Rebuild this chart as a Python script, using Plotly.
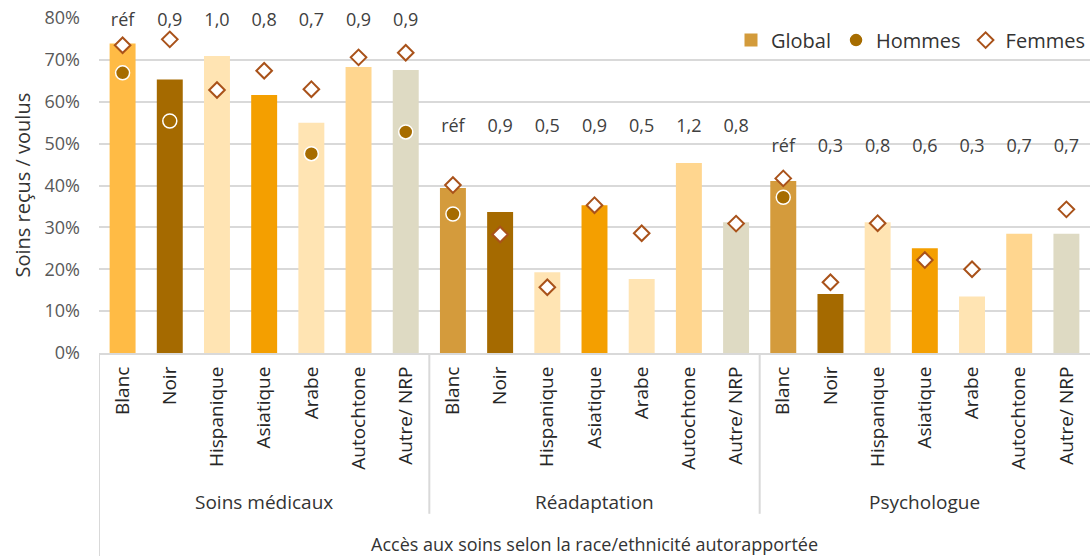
import plotly.graph_objects as go

# Categories
groups = ["Soins médicaux", "Réadaptation", "Psychologue"]
ethnicities = ["Blanc", "Noir", "Hispanique", "Asiatique", "Arabe", "Autochtone", "Autre/ NRP"]

# Share of care received among care wanted (%), per group then ethnicity
global_vals = [73.9, 65.3, 70.9, 61.6, 55.0, 68.3, 67.6,
               39.4, 33.7, 19.3, 35.3, 17.7, 45.4, 31.2,
               41.1, 14.1, 31.2, 25.0, 13.5, 28.5, 28.5]
hommes_vals = [66.9, 55.4, None, None, 47.6, None, 52.8,
               33.2, None, None, None, None, None, None,
               37.2, None, None, None, None, None, None]
femmes_vals = [73.5, 74.9, 62.8, 67.4, 63.0, 70.6, 71.7,
               40.1, 28.3, 15.7, 35.3, 28.6, None, 30.9,
               41.7, 16.9, 31.0, 22.2, 20.0, None, 34.3]

# Ratio labels shown above each bar
ratio_labels = ["réf", "0,9", "1,0", "0,8", "0,7", "0,9", "0,9",
                "réf", "0,9", "0,5", "0,9", "0,5", "1,2", "0,8",
                "réf", "0,3", "0,8", "0,6", "0,3", "0,7", "0,7"]

# Styling
FONT = "Open Sans"
eth_colors = {"Blanc": "#FFBB45", "Noir": "#A56A00", "Hispanique": "#FFE4B3",
              "Asiatique": "#F49F00", "Arabe": "#FFE4B3", "Autochtone": "#FFD68F",
              "Autre/ NRP": "#DEDAC3"}
blanc_other = "#D49B3C"
label_level = {"Soins médicaux": 79.2, "Réadaptation": 53.8, "Psychologue": 49.0}
GRID = "#D9D9D9"

n_eth = len(ethnicities)
xs = list(range(len(groups) * n_eth))
tick_text = [e for g in groups for e in ethnicities]
bar_colors = []
label_y = []
for gi, g in enumerate(groups):
    for e in ethnicities:
        if e == "Blanc" and gi > 0:
            bar_colors.append(blanc_other)
        else:
            bar_colors.append(eth_colors[e])
        label_y.append(label_level[g])

fig = go.Figure()

fig.add_trace(go.Bar(x=xs, y=global_vals, width=0.55, marker=dict(color=bar_colors, line=dict(width=0)),
                     showlegend=False, hoverinfo="y"))
# legend entry for the bars
fig.add_trace(go.Scatter(x=[None], y=[None], mode="markers", name="Global",
                         marker=dict(symbol="square", size=13, color="#D39B3B")))
fig.add_trace(go.Scatter(x=xs, y=hommes_vals, mode="markers", name="Hommes",
                         marker=dict(symbol="circle", size=14, color="#A66C00",
                                     line=dict(color="white", width=1.5))))
fig.add_trace(go.Scatter(x=xs, y=femmes_vals, mode="markers", name="Femmes",
                         marker=dict(symbol="diamond", size=12, color="white",
                                     line=dict(color="#A9521A", width=2))))
fig.add_trace(go.Scatter(x=xs, y=label_y, mode="text", text=ratio_labels, showlegend=False,
                         cliponaxis=False,
                         textfont=dict(family=FONT, size=18, color="#404040"), hoverinfo="skip"))

# group separators below the axis
shapes = []
for b in [n_eth - 0.5, 2 * n_eth - 0.5]:
    shapes.append(dict(type="line", xref="x", yref="paper", x0=b, x1=b, y0=0, y1=-0.48,
                       line=dict(color=GRID, width=2)))
shapes.append(dict(type="line", xref="x", yref="paper", x0=-0.5, x1=-0.5, y0=0, y1=-0.62,
                   line=dict(color=GRID, width=2)))

annotations = []
for gi, g in enumerate(groups):
    annotations.append(dict(text=g, xref="x", yref="paper", x=gi * n_eth + (n_eth - 1) / 2,
                            y=-0.445, showarrow=False, yanchor="middle",
                            font=dict(family=FONT, size=19, color="#333333")))
annotations.append(dict(text="Accès aux soins selon la race/ethnicité autorapportée",
                        xref="x", yref="paper", x=(len(xs) - 1) / 2, y=-0.57, showarrow=False,
                        yanchor="middle", font=dict(family=FONT, size=18, color="#333333")))
annotations.append(dict(text="Soins reçus / voulus", xref="paper", yref="paper", x=0, y=0.5,
                        xshift=-77, textangle=-90, showarrow=False, xanchor="center",
                        font=dict(family=FONT, size=20, color="#333333")))

fig.update_layout(
    width=1090, height=556, autosize=False,
    margin=dict(l=99, r=0, t=18, b=203),
    plot_bgcolor="white", paper_bgcolor="white",
    font=dict(family=FONT, size=18, color="#595959"),
    shapes=shapes, annotations=annotations,
    bargap=0.45,
    legend=dict(orientation="h", x=1.0, xanchor="right", y=0.934, yanchor="middle",
                font=dict(family=FONT, size=20, color="#333333"), bgcolor="rgba(0,0,0,0)"),
    xaxis=dict(range=[-0.5, len(xs) - 0.5], tickmode="array", tickvals=xs, ticktext=tick_text,
               tickangle=-90, showgrid=False, zeroline=False, showline=True, linecolor=GRID,
               linewidth=2, ticks="", ticklabelstandoff=4,
               tickfont=dict(family=FONT, size=19, color="#262626")),
    yaxis=dict(range=[0, 80], dtick=10, ticksuffix="%", showgrid=True, gridcolor=GRID,
               gridwidth=2, zeroline=False, showline=False, ticks="", ticklabelstandoff=18,
               tickfont=dict(family=FONT, size=18, color="#595959")),
)

fig.write_html("out.html")
